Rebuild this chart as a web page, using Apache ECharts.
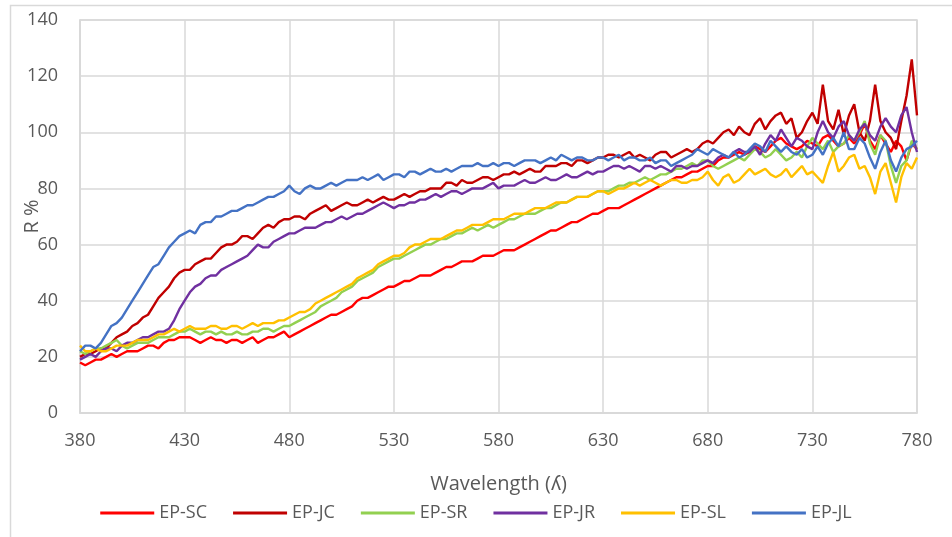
<!DOCTYPE html>
<html>
<head>
<meta charset="utf-8">
<script src="https://cdn.jsdelivr.net/npm/echarts@6/dist/echarts.min.js"></script>
<style>
html,body{margin:0;padding:0;background:#fff;}
#chart{width:952px;height:537px;}
</style>
</head>
<body>
<div id="chart"></div>
<script>
// Wavelength (nm), 2.5 nm steps from 380 to 780
const wavelengths = [];
for (let i = 0; i <= 160; i++) wavelengths.push(380 + i * 2.5);

const seriesNames = ['EP-SC', 'EP-JC', 'EP-SR', 'EP-JR', 'EP-SL', 'EP-JL'];
const seriesColors = ['#FF0000', '#C00000', '#92D050', '#7030A0', '#FFC000', '#4472C4'];

const epSC = [18,17,18,19,19,20,21,20,21,22,22,22,23,24,24,23,25,26,26,27,27,27,26,25,26,27,26,26,25,26,26,25,26,27,25,26,27,27,28,29,
  27,28,29,30,31,32,33,34,35,35,36,37,38,40,41,41,42,43,44,45,45,46,47,47,48,49,49,49,50,51,52,52,53,54,54,54,55,56,56,56,
  57,58,58,58,59,60,61,62,63,64,65,65,66,67,68,68,69,70,71,71,72,73,73,73,74,75,76,77,78,79,80,81,82,83,84,84,85,86,86,87,
  88,88,90,91,91,92,93,92,93,95,94,93,95,97,98,96,95,94,95,97,96,95,98,99,97,95,96,98,96,99,103,97,94,99,96,93,97,95,90,96,94];
const epJC = [20,21,21,22,23,23,25,27,28,29,31,32,34,35,38,41,43,45,48,50,51,51,53,54,55,55,57,59,60,60,61,63,63,62,64,66,67,66,68,69,
  69,70,70,69,71,72,73,74,72,73,74,75,74,74,75,76,75,76,77,76,76,77,78,77,78,79,79,80,80,80,82,82,81,83,82,82,83,84,84,83,
  84,85,85,86,85,86,87,86,86,88,88,88,89,89,88,90,90,89,90,91,91,92,92,91,92,93,91,92,91,90,92,93,93,91,92,93,94,93,94,96,
  97,96,98,100,101,99,102,100,99,103,105,101,104,106,107,103,105,98,100,104,107,103,117,104,101,108,99,106,110,100,97,104,117,104,100,98,94,104,113,126,106];
const epSR = [22,21,22,23,23,24,25,26,24,23,24,25,25,25,26,27,27,27,28,29,29,30,29,28,29,29,28,29,28,28,29,28,28,29,29,30,30,29,30,31,
  31,32,33,34,35,36,38,39,40,41,43,44,45,47,48,49,50,52,53,54,55,55,56,57,58,59,60,60,61,62,62,63,64,64,65,66,65,66,67,66,
  67,68,69,69,70,71,71,71,72,73,73,74,75,75,76,77,77,77,78,79,79,79,80,81,81,82,82,83,84,83,84,85,85,86,87,87,88,89,88,90,
  90,88,87,88,89,90,91,90,92,94,93,91,92,94,92,90,91,93,91,95,98,96,94,97,93,95,96,99,97,100,104,96,92,99,97,88,82,88,90,97,94];
const epJR = [19,20,21,20,22,23,23,22,24,25,25,26,27,27,28,29,29,30,33,37,40,43,45,46,48,49,49,51,52,53,54,55,56,58,60,59,59,61,62,63,
  64,64,65,66,66,66,67,68,68,69,70,69,70,71,71,72,73,74,75,74,73,74,74,75,75,76,76,77,78,77,78,79,79,78,79,80,80,80,81,82,
  80,81,81,81,82,83,82,82,83,84,83,83,84,85,84,84,85,86,85,86,86,87,88,88,87,88,87,86,88,88,87,88,87,86,88,88,87,88,88,89,
  90,89,91,92,91,93,94,93,93,95,92,96,99,97,101,98,95,98,97,95,94,100,104,100,98,102,104,99,97,101,103,99,97,102,105,102,100,106,109,100,93];
const epSL = [24,22,22,23,22,22,23,24,24,24,25,26,26,26,27,28,28,29,30,29,30,31,30,30,30,31,31,30,30,31,31,30,31,32,31,32,32,32,33,33,
  34,35,36,36,37,39,40,41,42,43,44,45,46,48,49,50,51,53,54,55,56,56,57,59,60,60,61,62,62,62,63,64,65,65,66,67,67,67,68,69,
  69,69,70,71,71,71,72,73,73,73,74,75,75,75,76,77,77,77,78,79,79,78,79,80,80,81,82,81,82,83,82,81,82,83,83,82,82,83,83,84,
  86,83,81,84,85,82,83,85,87,85,86,87,85,84,85,87,84,86,88,85,86,84,82,88,93,86,88,91,92,87,88,84,78,86,89,82,75,84,89,87,91];
const epJL = [22,24,24,23,25,28,31,32,34,37,40,43,46,49,52,53,56,59,61,63,64,65,64,67,68,68,70,70,71,72,72,73,74,74,75,76,77,77,78,79,
  81,79,78,80,81,80,80,81,82,81,82,83,83,83,84,83,84,85,83,84,85,85,84,86,86,85,86,87,86,86,87,86,87,88,88,88,89,88,88,89,
  88,89,89,88,89,90,90,90,89,90,91,90,92,91,90,91,91,90,90,91,91,90,91,92,90,91,91,90,90,91,89,90,90,88,89,90,91,92,94,93,
  92,94,93,92,91,93,91,92,94,96,95,93,97,95,93,95,93,92,94,91,92,95,92,96,98,95,100,94,94,98,96,91,87,93,97,90,86,91,94,95,97];

const seriesData = [epSC, epJC, epSR, epJR, epSL, epJL];

const xTicks = [380, 430, 480, 530, 580, 630, 680, 730, 780];
const yTicks = [0, 20, 40, 60, 80, 100, 120, 140];

const FONT = '"Open Sans", "Liberation Sans", sans-serif';
const TXT = '#595959';
const GRIDC = '#d9d9d9';

const chart = echarts.init(document.getElementById('chart'), null, {renderer: 'canvas'});
chart.setOption({
  animation: false,
  backgroundColor: '#ffffff',
  graphic: [{
    type: 'rect', silent: true,
    shape: {x: 10.5, y: 5.5, width: 980, height: 580},
    style: {fill: 'none', stroke: GRIDC, lineWidth: 1.5}
  }],
  grid: {left: 80, right: 35, top: 20, bottom: 124, show: true, borderColor: GRIDC, borderWidth: 1.5,
    containLabel: false, outerBoundsMode: 'none'},
  legend: {
    data: seriesNames,
    bottom: 10,
    left: 'center',
    icon: 'rect',
    itemWidth: 54,
    itemHeight: 3,
    itemGap: 26,
    textStyle: {fontFamily: FONT, fontSize: 18, color: TXT}
  },
  xAxis: {
    type: 'value',
    min: xTicks[0], max: xTicks[xTicks.length - 1], interval: 50,
    name: 'Wavelength (ʎ)',
    nameLocation: 'middle',
    nameGap: 61,
    nameMoveOverlap: false,
    nameTextStyle: {fontFamily: FONT, fontSize: 20, color: TXT},
    axisLine: {show: true, lineStyle: {color: GRIDC, width: 1.5}},
    axisTick: {show: false},
    axisLabel: {fontFamily: FONT, fontSize: 18, color: TXT, margin: 19},
    splitLine: {show: true, lineStyle: {color: GRIDC, width: 1.5}}
  },
  yAxis: {
    type: 'value',
    min: yTicks[0], max: yTicks[yTicks.length - 1], interval: 20,
    name: 'R %',
    nameLocation: 'middle',
    nameGap: 38,
    nameMoveOverlap: false,
    nameTextStyle: {fontFamily: FONT, fontSize: 20, color: TXT},
    axisLine: {show: true, lineStyle: {color: GRIDC, width: 1.5}},
    axisTick: {show: false},
    axisLabel: {fontFamily: FONT, fontSize: 18, color: TXT, margin: 22},
    splitLine: {show: true, lineStyle: {color: GRIDC, width: 1.5}}
  },
  series: seriesNames.map((n, k) => ({
    name: n,
    type: 'line',
    showSymbol: false,
    symbol: 'none',
    color: seriesColors[k],
    lineStyle: {width: 2.4, color: seriesColors[k]},
    data: wavelengths.map((w, i) => [w, seriesData[k][i]])
  }))
});
</script>
</body>
</html>
